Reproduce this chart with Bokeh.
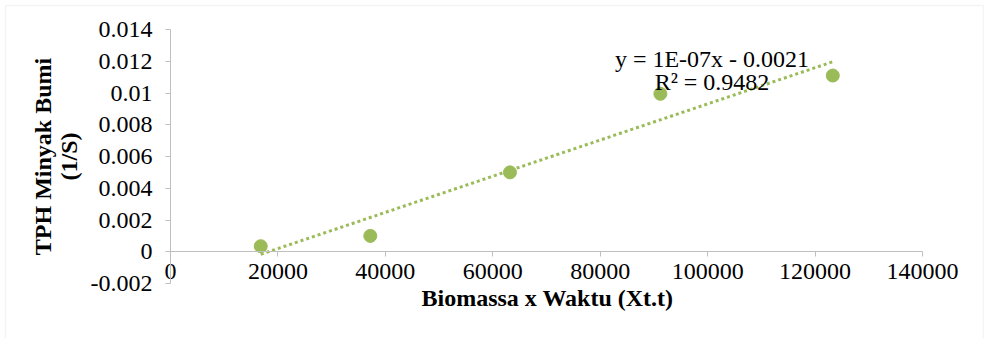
import math

import numpy as np
from bokeh.embed import file_html
from bokeh.models import BoxAnnotation, ColumnDataSource, FixedTicker, Label, Range1d
from bokeh.plotting import figure
from bokeh.resources import INLINE

# Observations: biomass x time against TPH (1/S)
biomassa_waktu = [16800, 37200, 63200, 91200, 123300]
tph_inverse = [0.00035, 0.001, 0.005, 0.00995, 0.0111]

x_ticks = [0, 20000, 40000, 60000, 80000, 100000, 120000, 140000]
x_tick_labels = ["0", "20000", "40000", "60000", "80000", "100000", "120000", "140000"]
y_ticks = [-0.002, 0.0, 0.002, 0.004, 0.006, 0.008, 0.01, 0.012, 0.014]
y_tick_labels = ["-0.002", "0", "0.002", "0.004", "0.006", "0.008", "0.01", "0.012", "0.014"]

equation_text = "y = 1E-07x - 0.0021"
r2_text = "R\u00b2 = 0.9482"
x_title = "Biomassa x Waktu (Xt.t)"
y_title_lines = ["TPH Minyak Bumi", "(1/S)"]

GREEN = "#9bbb59"
AXIS_GREY = "#bfbfbf"
FONT = "Liberation Serif"
TEXT_SIZE = "24px"

W, H = 984, 338
# pixel box of the axes inside the canvas
AX_LEFT, AX_RIGHT, AX_TOP, AX_BOTTOM = 170, 922, 29, 283

# Linear least-squares trendline over the observed x span
slope, intercept = np.polyfit(biomassa_waktu, tph_inverse, 1)
trend_x = [min(biomassa_waktu), max(biomassa_waktu)]
trend_y = [slope * xv + intercept for xv in trend_x]

points = ColumnDataSource(data=dict(x=biomassa_waktu, y=tph_inverse))
trend = ColumnDataSource(data=dict(x=trend_x, y=trend_y))

# The plotting frame fills the whole canvas; ranges are widened so that the
# axis span lands on the pixel box above and the axes sit at fixed locations.
x0, x1 = x_ticks[0], x_ticks[-1]
y0, y1 = y_ticks[0], y_ticks[-1]
xpp = (x1 - x0) / (AX_RIGHT - AX_LEFT)
ypp = (y1 - y0) / (AX_BOTTOM - AX_TOP)

p = figure(
    width=W,
    height=H,
    x_range=Range1d(x0 - AX_LEFT * xpp, x1 + (W - AX_RIGHT) * xpp),
    y_range=Range1d(y0 - (H - AX_BOTTOM) * ypp, y1 + AX_TOP * ypp),
    output_backend="svg",
    toolbar_location=None,
    min_border=0,
)
p.background_fill_color = "white"
p.border_fill_color = "white"
p.outline_line_color = None
p.grid.visible = False

xa = p.xaxis[0]
xa.fixed_location = 0
xa.bounds = (x0, x1)
xa.ticker = FixedTicker(ticks=x_ticks)
xa.major_label_overrides = dict(zip(x_ticks, x_tick_labels))

ya = p.yaxis[0]
ya.fixed_location = 0
ya.bounds = (y0, y1)
ya.ticker = FixedTicker(ticks=y_ticks)
ya.major_label_overrides = dict(zip(y_ticks, y_tick_labels))

for ax in (xa, ya):
    ax.axis_line_color = AXIS_GREY
    ax.axis_line_width = 1
    ax.major_tick_line_color = AXIS_GREY
    ax.major_tick_out = 5
    ax.major_tick_in = 0
    ax.minor_tick_line_color = None
    ax.major_label_text_font = FONT
    ax.major_label_text_font_size = TEXT_SIZE
    ax.major_label_text_color = "black"
xa.major_label_standoff = 7
ya.major_label_standoff = 13

p.scatter("x", "y", source=points, size=13, color=GREEN)
p.line("x", "y", source=trend, line_color=GREEN, line_width=3, line_dash="3 3")

# Trendline equation and R² (screen units measured from the canvas bottom-left)
for txt, base in ((equation_text, H - 58), (r2_text, H - 81)):
    p.add_layout(Label(
        x=711.5, y=base, x_units="screen", y_units="screen", text=txt,
        text_font=FONT, text_font_size=TEXT_SIZE, text_color="black",
        text_align="center", text_baseline="alphabetic",
    ))

# Axis titles
p.add_layout(Label(
    x=547, y=H - 297, x_units="screen", y_units="screen", text=x_title,
    text_font=FONT, text_font_size=TEXT_SIZE, text_font_style="bold",
    text_color="black", text_align="center", text_baseline="alphabetic",
))
for txt, xs in zip(y_title_lines, (42, 68)):
    p.add_layout(Label(
        x=xs, y=H - (AX_TOP + AX_BOTTOM) / 2, x_units="screen", y_units="screen", text=txt,
        angle=math.pi / 2, angle_units="rad",
        text_font=FONT, text_font_size=TEXT_SIZE, text_font_style="bold",
        text_color="black", text_align="center", text_baseline="alphabetic",
    ))

# Chart-area border
p.add_layout(BoxAnnotation(
    left=5, right=983, top=5, bottom=400,
    left_units="canvas", right_units="canvas", top_units="canvas", bottom_units="canvas",
    fill_alpha=0, line_color="#d9d9d9", line_width=1.5,
))

open("out.html", "w").write(file_html(p, INLINE))
